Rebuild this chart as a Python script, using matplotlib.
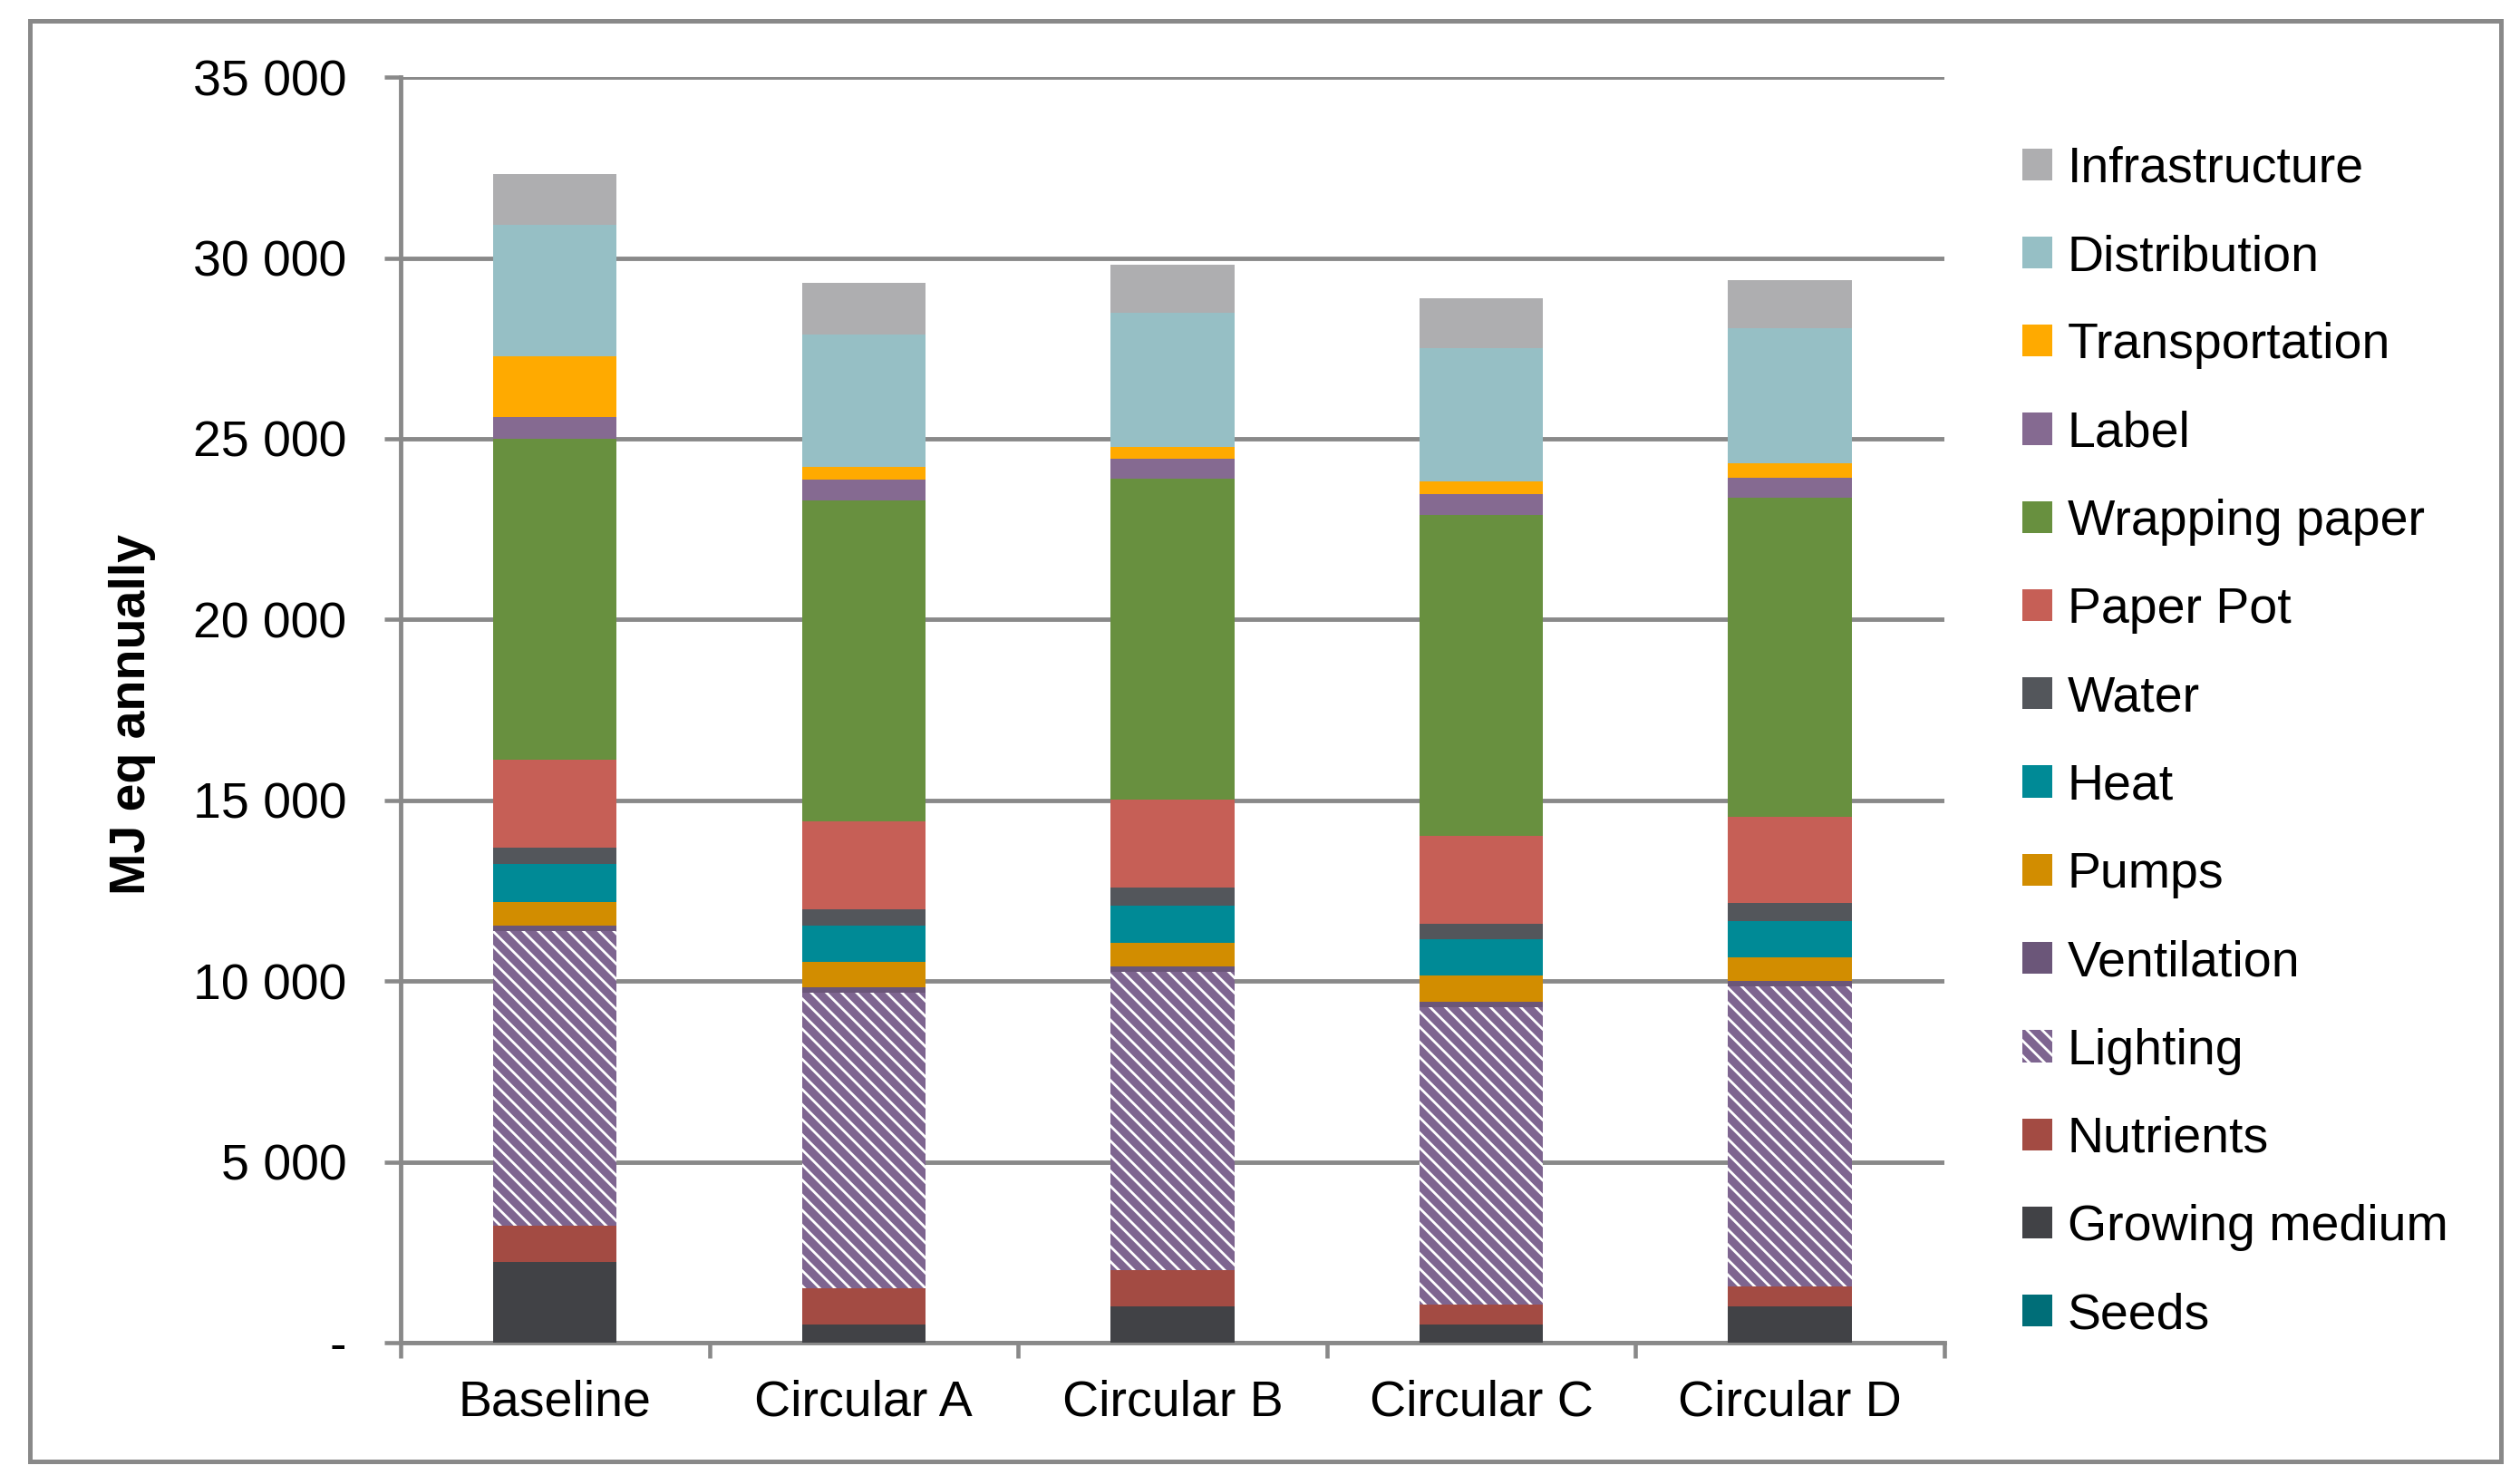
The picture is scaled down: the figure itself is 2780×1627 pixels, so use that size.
import numpy as np
import matplotlib
matplotlib.use("Agg")
import matplotlib.pyplot as plt
from matplotlib.patches import Rectangle
from matplotlib.ticker import FuncFormatter

plt.rcParams['font.family'] = ['Liberation Sans', 'DejaVu Sans']
plt.rcParams['hatch.color'] = 'white'
plt.rcParams['hatch.linewidth'] = 2.0

# scenarios on the x axis
scenarios = ['Baseline', 'Circular A', 'Circular B', 'Circular C', 'Circular D']

# stack order, bottom to top (MJ eq annually)
seeds          = [10, 8, 8, 8, 8]
growing_medium = [2215, 506, 1000, 485, 1000]
nutrients      = [1000, 1000, 990, 560, 550]
lighting       = [8160, 8165, 8270, 8230, 8305]
ventilation    = [155, 145, 140, 155, 130]
pumps          = [650, 710, 660, 710, 660]
heat           = [1060, 1010, 1010, 1015, 1015]
water          = [430, 430, 510, 430, 505]
paper_pot      = [2450, 2450, 2440, 2430, 2370]
wrapping_paper = [8880, 8870, 8870, 8870, 8830]
label          = [580, 585, 550, 565, 555]
transportation = [1680, 350, 320, 360, 395]
distribution   = [3650, 3665, 3720, 3690, 3730]
infrastructure = [1390, 1410, 1320, 1380, 1325]

series = [
    ('Seeds', seeds, '#006E78'),
    ('Growing medium', growing_medium, '#414246'),
    ('Nutrients', nutrients, '#A34B43'),
    ('Lighting', lighting, '#7E6590'),
    ('Ventilation', ventilation, '#6B5679'),
    ('Pumps', pumps, '#D28D00'),
    ('Heat', heat, '#008A96'),
    ('Water', water, '#53565B'),
    ('Paper Pot', paper_pot, '#C65F56'),
    ('Wrapping paper', wrapping_paper, '#68903F'),
    ('Label', label, '#856A91'),
    ('Transportation', transportation, '#FFAA00'),
    ('Distribution', distribution, '#96BFC5'),
    ('Infrastructure', infrastructure, '#AEAEB0'),
]

grey = '#898989'
fs = 40

fig = plt.figure(figsize=(27.8, 16.27), dpi=100)
ax = fig.add_axes([0.159, 0.0897, 0.6125, 0.858])

x = np.arange(len(scenarios))
bottom = np.zeros(len(scenarios))
handles = []
for name, vals, col in series:
    vals = np.array(vals, dtype=float)
    if name == 'Lighting':
        b = ax.bar(x, vals, 0.4, bottom=bottom, color=col, edgecolor='white',
                   linewidth=0, hatch='\\\\', label=name, zorder=3)
    else:
        b = ax.bar(x, vals, 0.4, bottom=bottom, color=col, linewidth=0,
                   label=name, zorder=3)
    handles.append(b)
    bottom += vals

ax.set_xlim(-0.5, 4.5)
ax.set_ylim(0, 35000)
ax.set_yticks(np.arange(0, 35001, 5000))
ax.yaxis.set_major_formatter(FuncFormatter(
    lambda v, p: '-' if v == 0 else '{:,.0f}'.format(v).replace(',', ' ')))
ax.set_xticks(x)
ax.set_xticklabels(scenarios)
ax.set_xticks(np.arange(-0.5, 4.6, 1), minor=True)

ax.grid(axis='y', color=grey, linewidth=3.5, zorder=0)
ax.set_axisbelow(True)
for s in ['top', 'right']:
    ax.spines[s].set_visible(False)
for s in ['left', 'bottom']:
    ax.spines[s].set_color(grey)
    ax.spines[s].set_linewidth(3.5)

ax.tick_params(axis='y', length=13, width=3.3, color=grey, pad=30, labelsize=fs)
ax.tick_params(axis='x', which='major', length=0, pad=29, labelsize=fs)
ax.tick_params(axis='x', which='minor', length=12, width=3.3, color=grey)

fig.text(0.0525, 0.5157, 'MJ eq annually', rotation=90, ha='center', va='center',
         fontsize=fs, fontweight='bold')

# legend, top entry is the top of the stack
names = [s[0] for s in series][::-1]
leg = fig.legend(handles[::-1], names, loc='center left',
                 bbox_to_anchor=(0.8025, 0.4966), frameon=False, fontsize=fs,
                 handlelength=0.6, handleheight=0.6, handletextpad=0.3,
                 labelspacing=0.815, borderpad=0, borderaxespad=0)

# outer chart frame
fig.patches.append(Rectangle((0.012, 0.0092), 0.9804, 0.9767, transform=fig.transFigure,
                             fill=False, edgecolor=grey, linewidth=3.6))

fig.savefig('out.png', dpi=100)
